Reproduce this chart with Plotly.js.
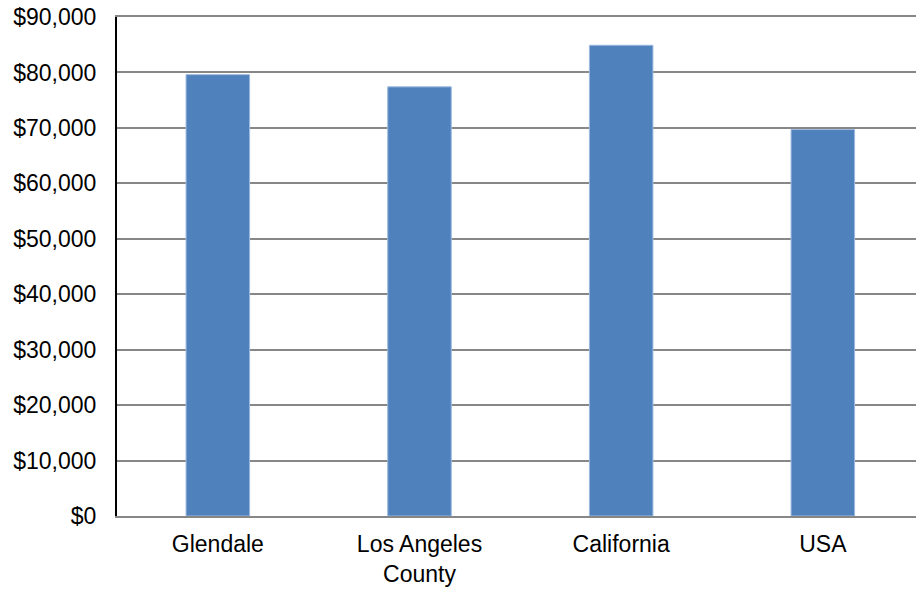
<!DOCTYPE html>
<html><head><meta charset="utf-8">
<script src="https://cdn.plot.ly/plotly-3.0.1.min.js"></script>
<style>html,body{margin:0;padding:0;background:#fff}#c{width:916px;height:590px}</style>
</head><body><div id="c"></div>
<script>
const categories = ["Glendale", "Los Angeles<br>County", "California", "USA"];
const incomes = [79600, 77400, 84900, 69700];
const tickValues = [0, 10000, 20000, 30000, 40000, 50000, 60000, 70000, 80000, 90000];
const tickLabels = ["$0", "$10,000", "$20,000", "$30,000", "$40,000", "$50,000", "$60,000", "$70,000", "$80,000", "$90,000"];

const trace = {
  type: 'bar',
  x: categories.map((_, i) => i),
  y: incomes,
  width: 0.315,
  marker: {color: '#4F81BD', line: {color: '#9DB9DE', width: 1}},
  hoverinfo: 'none'
};
const layout = {
  width: 916, height: 590,
  margin: {l: 117, r: 0, t: 17, b: 74},
  paper_bgcolor: '#fff', plot_bgcolor: '#fff',
  font: {family: 'Liberation Sans, Arial, sans-serif', size: 23, color: '#000'},
  showlegend: false,
  bargap: 0,
  xaxis: {
    range: [-0.5, 3.462],
    tickvals: [0, 1, 2, 3], ticktext: categories,
    showgrid: false, zeroline: false,
    showline: true, linecolor: '#878787', linewidth: 2, mirror: true,
    ticks: 'outside', ticklen: 6, tickcolor: 'rgba(0,0,0,0)',
    tickfont: {size: 23}
  },
  yaxis: {
    range: [0, 90000],
    tickvals: tickValues, ticktext: tickLabels,
    showgrid: true, gridcolor: '#878787', gridwidth: 2,
    zeroline: false,
    showline: true, linecolor: '#000', linewidth: 2,
    ticks: 'outside', ticklen: 14, tickcolor: 'rgba(0,0,0,0)',
    tickfont: {size: 23}
  }
};
Plotly.newPlot('c', [trace], layout, {displayModeBar: false, staticPlot: true});
</script></body></html>
